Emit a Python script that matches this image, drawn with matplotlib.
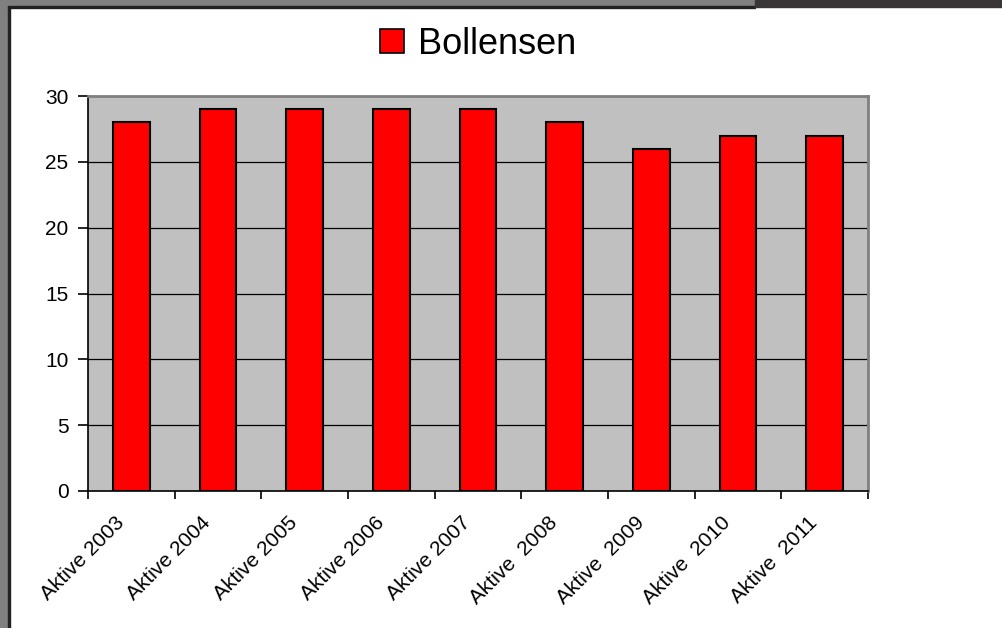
import matplotlib.pyplot as plt
from matplotlib.patches import Rectangle, Patch
from matplotlib.transforms import ScaledTranslation

plt.rcParams["font.family"] = ["Liberation Sans", "DejaVu Sans"]

kategorien = [
    "Aktive 2003",
    "Aktive 2004",
    "Aktive 2005",
    "Aktive 2006",
    "Aktive 2007",
    "Aktive  2008",
    "Aktive  2009",
    "Aktive  2010",
    "Aktive  2011",
]
aktive = [28, 29, 29, 29, 29, 28, 26, 27, 27]
y_ticks = [0, 5, 10, 15, 20, 25, 30]

W, H = 1003, 628
fig = plt.figure(figsize=(W / 100, H / 100), dpi=100, facecolor="white")

# Rahmen (Screenshot-Rand)
fig.patches.append(Rectangle((0, 0), 8 / W, 1, transform=fig.transFigure,
                             color="#808080", zorder=0))
fig.patches.append(Rectangle((8 / W, 0), 2 / W, 1 - 6 / H, transform=fig.transFigure,
                             color="#222222", zorder=0))
fig.patches.append(Rectangle((0, 1 - 6 / H), 755 / W, 6 / H, transform=fig.transFigure,
                             color="#808080", zorder=0))
fig.patches.append(Rectangle((8 / W, 1 - 8 / H), 747 / W, 2 / H, transform=fig.transFigure,
                             color="#222222", zorder=0))
fig.patches.append(Rectangle((755 / W, 1 - 7 / H), 248 / W, 7 / H, transform=fig.transFigure,
                             color="#3a3638", zorder=0))

ax = fig.add_axes([88 / W, (H - 491) / H, 780 / W, 395 / H])
ax.set_facecolor("#C0C0C0")

x = list(range(len(kategorien)))
ax.bar(x, aktive, width=0.42, color="#FF0000", edgecolor="black",
       linewidth=1.5, zorder=3, label="Bollensen")

ax.set_xlim(-0.5, len(kategorien) - 0.5)
ax.set_ylim(0, 30)
ax.set_yticks(y_ticks)
ax.set_yticklabels([str(v) for v in y_ticks], fontsize=15)
for v in y_ticks[1:-1]:
    ax.axhline(v, color="black", linewidth=0.9, zorder=1)

ax.set_xticks(x)
ax.set_xticklabels(kategorien, rotation=45, ha="right", va="top",
                   rotation_mode="anchor", fontsize=15)
ax.tick_params(axis="x", which="major", length=0, pad=16)
verschiebung = ScaledTranslation(-17 / 100, 0, fig.dpi_scale_trans)
for lbl in ax.get_xticklabels():
    lbl.set_transform(lbl.get_transform() + verschiebung)
ax.set_xticks([i - 0.5 for i in range(len(kategorien) + 1)], minor=True)
ax.tick_params(axis="x", which="minor", length=6, width=1.2, color="black")
ax.tick_params(axis="y", length=7, width=1.2, color="black", pad=7)

ax.spines["left"].set_color("black")
ax.spines["bottom"].set_color("black")
ax.spines["left"].set_linewidth(1.2)
ax.spines["bottom"].set_linewidth(1.2)
ax.spines["top"].set_color("#808080")
ax.spines["right"].set_color("#808080")
ax.spines["top"].set_linewidth(2)
ax.spines["right"].set_linewidth(2)

fig.legend(handles=[Patch(facecolor="#FF0000", edgecolor="black", linewidth=1.2,
                          label="Bollensen")],
           loc="center", bbox_to_anchor=(478 / W, 1 - 44 / H), frameon=False,
           fontsize=26, handlelength=0.67, handleheight=0.67, handletextpad=0.4)

fig.savefig("out.png", dpi=100)
